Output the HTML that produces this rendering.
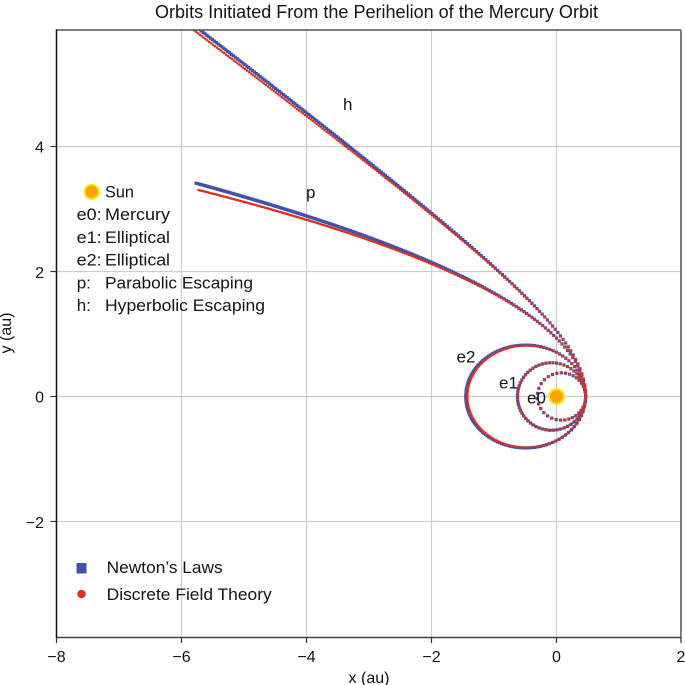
<!DOCTYPE html>
<html><head><meta charset="utf-8">
<style>
html,body{margin:0;padding:0;background:#fff;}
svg{display:block;}
text{font-family:"Liberation Sans",sans-serif;fill:#141414;}
</style></head>
<body>
<svg id="s" width="685" height="685" viewBox="0 0 685 685" xmlns="http://www.w3.org/2000/svg">
<defs><clipPath id="c"><rect x="56.5" y="30" width="624.5" height="607.5"/></clipPath></defs>
<rect width="685" height="685" fill="#fff"/>
<!-- title -->
<text x="155" y="18" font-size="18" textLength="443" lengthAdjust="spacingAndGlyphs">Orbits Initiated From the Perihelion of the Mercury Orbit</text>
<!-- grid -->
<g stroke="#cdcdcd" stroke-width="1.2">
<line x1="181.5" y1="30" x2="181.5" y2="637.5"/>
<line x1="306.5" y1="30" x2="306.5" y2="637.5"/>
<line x1="431.5" y1="30" x2="431.5" y2="637.5"/>
<line x1="556.5" y1="30" x2="556.5" y2="637.5"/>
<line x1="56.5" y1="146.5" x2="681" y2="146.5"/>
<line x1="56.5" y1="271.5" x2="681" y2="271.5"/>
<line x1="56.5" y1="396.5" x2="681" y2="396.5"/>
<line x1="56.5" y1="521.5" x2="681" y2="521.5"/>
</g>
<g id="data" clip-path="url(#c)"></g>
<!-- sun -->
<circle cx="556.5" cy="396.5" r="7.3" fill="#f7a400" stroke="#ffe400" stroke-width="2"/>
<!-- spines -->
<g stroke-width="1.5" fill="none">
<line x1="56.5" y1="30" x2="681" y2="30" stroke="#555"/>
<line x1="681" y1="30" x2="681" y2="637.5" stroke="#555"/>
<line x1="56.5" y1="637.5" x2="681.5" y2="637.5" stroke="#444"/>
<line x1="56.5" y1="29.3" x2="56.5" y2="638" stroke="#111"/>
</g>
<!-- ticks -->
<g stroke="#333" stroke-width="1.2">
<line x1="56.5" y1="637.5" x2="56.5" y2="643"/>
<line x1="181.5" y1="637.5" x2="181.5" y2="643"/>
<line x1="306.5" y1="637.5" x2="306.5" y2="643"/>
<line x1="431.5" y1="637.5" x2="431.5" y2="643"/>
<line x1="556.5" y1="637.5" x2="556.5" y2="643"/>
<line x1="681" y1="637.5" x2="681" y2="643"/>
<line x1="50.5" y1="146.5" x2="56.5" y2="146.5"/>
<line x1="50.5" y1="271.5" x2="56.5" y2="271.5"/>
<line x1="50.5" y1="396.5" x2="56.5" y2="396.5"/>
<line x1="50.5" y1="521.5" x2="56.5" y2="521.5"/>
</g>
<g font-size="16" text-anchor="middle">
<text x="56.5" y="662">−8</text>
<text x="181.5" y="662">−6</text>
<text x="306.5" y="662">−4</text>
<text x="431.5" y="662">−2</text>
<text x="556.5" y="662">0</text>
<text x="681" y="662">2</text>
</g>
<g font-size="16" text-anchor="end">
<text x="44" y="152.5">4</text>
<text x="44" y="278">2</text>
<text x="44" y="402.5">0</text>
<text x="44" y="528">−2</text>
</g>
<text x="369" y="683" font-size="16" text-anchor="middle">x (au)</text>
<text transform="translate(11,333) rotate(-90)" font-size="16" text-anchor="middle">y (au)</text>
<!-- orbit labels -->
<g font-size="17">
<text x="343" y="110">h</text>
<text x="306" y="198">p</text>
<text x="456.5" y="362.5">e2</text>
<text x="499" y="388.5">e1</text>
<text x="527" y="403.5">e0</text>
</g>
<!-- info legend -->
<circle cx="91.7" cy="191.7" r="7" fill="#f7a400" stroke="#ffe400" stroke-width="2"/>
<g font-size="17">
<text x="105" y="197.5" textLength="29" lengthAdjust="spacingAndGlyphs">Sun</text>
<text x="76.7" y="220.2" textLength="25" lengthAdjust="spacingAndGlyphs">e0:</text>
<text x="105" y="220.2" textLength="65" lengthAdjust="spacingAndGlyphs">Mercury</text>
<text x="76.7" y="242.9" textLength="25" lengthAdjust="spacingAndGlyphs">e1:</text>
<text x="105" y="242.9" textLength="65" lengthAdjust="spacingAndGlyphs">Elliptical</text>
<text x="76.7" y="265.6" textLength="25" lengthAdjust="spacingAndGlyphs">e2:</text>
<text x="105" y="265.6" textLength="65" lengthAdjust="spacingAndGlyphs">Elliptical</text>
<text x="76.7" y="288.3">p:</text>
<text x="105" y="288.3" textLength="148" lengthAdjust="spacingAndGlyphs">Parabolic Escaping</text>
<text x="76.7" y="311">h:</text>
<text x="105" y="311" textLength="160" lengthAdjust="spacingAndGlyphs">Hyperbolic Escaping</text>
</g>
<!-- marker legend -->
<rect x="76.5" y="563" width="10" height="10.5" fill="#4151ac"/>
<circle cx="81.5" cy="594" r="4.2" fill="#e32d1e"/>
<g font-size="17">
<text x="106.7" y="573" textLength="116" lengthAdjust="spacingAndGlyphs">Newton’s Laws</text>
<text x="106.7" y="600" textLength="165" lengthAdjust="spacingAndGlyphs">Discrete Field Theory</text>
</g>
</svg>
<script>
(function(){
  var mu=4*Math.PI*Math.PI, r0=0.467, dt=2.5/365.25;
  function X(x){return 556.5+62.5*x;}
  function Y(y){return 396.5-62.5*y;}
  function sim(v0,T){
    var x=r0,y=0,vx=0,vy=v0,n=Math.round(T/dt),sub=200,h=dt/sub,pts=[[x,y]];
    for(var i=0;i<n;i++){
      for(var k=0;k<sub;k++){
        var r=Math.sqrt(x*x+y*y),a=-mu/(r*r*r);
        vx+=0.5*h*a*x; vy+=0.5*h*a*y;
        x+=h*vx; y+=h*vy;
        r=Math.sqrt(x*x+y*y); a=-mu/(r*r*r);
        vx+=0.5*h*a*x; vy+=0.5*h*a*y;
      }
      pts.push([x,y]);
      if(Math.abs(x)>12||Math.abs(y)>12)break;
    }
    return pts;
  }
  var orbits=[
    {v:Math.sqrt(mu*(2/r0-1/0.387)),T:Math.pow(0.387,1.5)},
    {v:Math.sqrt(mu*(2/r0-2/(r0+0.625))),T:Math.pow((r0+0.625)/2,1.5)},
    {v:Math.sqrt(mu*(2/r0-2/(r0+1.45))),T:Math.pow((r0+1.45)/2,1.5)},
    {v:Math.sqrt(2*mu/r0),T:1.43},
    {v:Math.sqrt(mu*(1+1.25)/r0),T:1.6}
  ];
  var blue=[],red=[];
  orbits.forEach(function(o){
    sim(o.v,o.T).forEach(function(p){
      var px=X(p[0]),py=Y(p[1]);
      if(px<50||px>690||py<20||py>645)return;
      blue.push('<rect x="'+(px-1.6).toFixed(2)+'" y="'+(py-1.6).toFixed(2)+'" width="3.2" height="3.2"/>');
    });
    sim(o.v*0.998,o.T).forEach(function(p){
      var px=X(p[0]),py=Y(p[1]);
      if(px<50||px>690||py<20||py>645)return;
      red.push('<circle cx="'+px.toFixed(2)+'" cy="'+py.toFixed(2)+'" r="1.25"/>');
    });
  });
  document.getElementById('data').innerHTML=
    '<g fill="#4151ac">'+blue.join('')+'</g><g fill="#e32d1e">'+red.join('')+'</g>';
})();
</script>
</body></html>
